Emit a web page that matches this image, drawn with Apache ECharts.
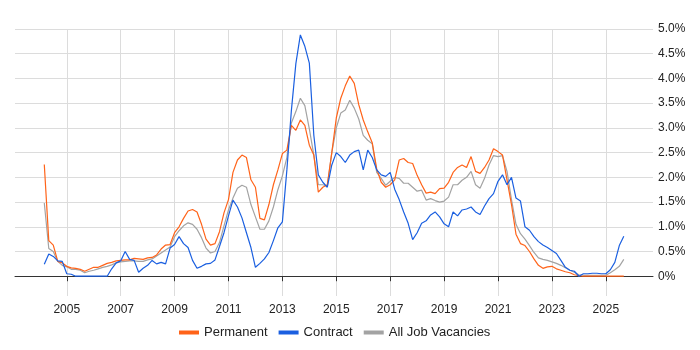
<!DOCTYPE html>
<html>
<head>
<meta charset="utf-8">
<script src="https://cdn.jsdelivr.net/npm/echarts@6/dist/echarts.min.js"></script>
<style>
html,body{margin:0;padding:0;background:#fff;}
#chart{width:700px;height:350px;}
</style>
</head>
<body>
<div id="chart"></div>
<script>
// Series sampled every 2 months starting March 2004
const startYear = 2004;
const startMonth = 3;
const stepMonths = 2;

const seriesNames = ['Permanent', 'Contract', 'All Job Vacancies'];

const permanent = [2.26,0.72,0.63,0.30,0.27,0.20,0.17,0.16,0.14,0.10,
0.14,0.18,0.18,0.22,0.26,0.28,0.31,0.32,0.33,0.33,
0.36,0.35,0.34,0.37,0.38,0.43,0.55,0.63,0.64,0.88,
1.00,1.17,1.32,1.35,1.30,1.05,0.75,0.63,0.66,0.90,
1.28,1.55,2.10,2.35,2.45,2.40,1.95,1.80,1.17,1.14,
1.45,1.85,2.15,2.48,2.55,3.05,2.95,3.16,3.05,2.65,
2.45,1.70,1.80,1.85,2.50,3.20,3.60,3.85,4.05,3.90,
3.47,3.16,2.92,2.70,2.17,1.90,1.80,1.85,1.95,2.35,
2.38,2.30,2.28,2.04,1.85,1.68,1.70,1.67,1.77,1.78,
1.90,2.10,2.20,2.25,2.20,2.42,2.12,2.08,2.20,2.35,
2.58,2.52,2.45,1.95,1.45,0.85,0.66,0.62,0.50,0.35,
0.22,0.16,0.19,0.20,0.15,0.12,0.09,0.07,0.03,0.01,
0,0,0,0,0,0,0,0,0,0];

const contract = [0.24,0.45,0.40,0.31,0.30,0.05,0.04,0.00,0.00,0.00,
0.00,0.00,0.00,0.00,0.00,0.15,0.27,0.31,0.50,0.34,
0.32,0.08,0.16,0.22,0.32,0.25,0.28,0.25,0.57,0.64,
0.80,0.66,0.58,0.32,0.16,0.20,0.25,0.26,0.33,0.60,
0.88,1.22,1.54,1.40,1.18,0.88,0.58,0.18,0.26,0.35,
0.48,0.72,0.98,1.10,2.15,3.35,4.30,4.88,4.65,4.31,
2.85,2.05,1.90,1.80,2.25,2.50,2.42,2.30,2.45,2.52,
2.55,2.15,2.55,2.40,2.15,2.05,2.02,2.10,1.76,1.55,
1.30,1.07,0.74,0.88,1.07,1.12,1.24,1.30,1.20,1.06,
1.00,1.30,1.22,1.34,1.36,1.40,1.30,1.25,1.42,1.57,
1.67,1.92,2.05,1.85,2.00,1.58,1.52,1.00,0.93,0.80,
0.70,0.63,0.58,0.52,0.46,0.32,0.18,0.12,0.10,0.00,
0.05,0.05,0.06,0.06,0.05,0.05,0.13,0.28,0.62,0.81];

const allJobs = [1.48,0.56,0.50,0.30,0.22,0.19,0.14,0.14,0.12,0.07,
0.10,0.12,0.15,0.18,0.20,0.23,0.27,0.29,0.30,0.31,
0.31,0.30,0.30,0.33,0.35,0.41,0.47,0.53,0.59,0.80,
0.92,1.02,1.08,1.05,0.95,0.78,0.57,0.47,0.50,0.68,
1.02,1.34,1.58,1.78,1.84,1.80,1.45,1.20,0.95,0.95,
1.12,1.40,1.75,2.03,2.40,3.10,3.33,3.60,3.45,2.98,
2.45,1.85,1.85,1.82,2.50,3.00,3.30,3.36,3.56,3.40,
3.18,2.85,2.75,2.68,2.10,1.98,1.84,1.92,2.00,1.98,
1.88,1.88,1.80,1.72,1.74,1.54,1.57,1.53,1.50,1.52,
1.60,1.85,1.85,1.94,2.00,2.12,1.85,1.78,1.98,2.25,
2.44,2.42,2.44,2.12,1.55,1.05,0.86,0.75,0.62,0.48,
0.37,0.34,0.32,0.29,0.26,0.22,0.17,0.12,0.08,0.03,
0.02,0.02,0.02,0.02,0.02,0.02,0.07,0.13,0.20,0.34];

const yearTicks = [2005,2007,2009,2011,2013,2015,2017,2019,2021,2023,2025];
const pctTicks = [0,0.5,1,1.5,2,2.5,3,3.5,4,4.5,5];

function toPairs(arr) {
  return arr.map((v, i) => [startYear + (startMonth - 1 + i * stepMonths) / 12, v]);
}

const chart = echarts.init(document.getElementById('chart'), null, {renderer: 'canvas'});
const font = '"Liberation Sans", Arial, sans-serif';
chart.setOption({
  animation: false,
  textStyle: {fontFamily: font},
  grid: {left: 15, right: 47, top: 29, bottom: 54, containLabel: false},
  legend: {
    bottom: 6,
    left: 174,
    icon: 'rect',
    itemWidth: 20,
    itemHeight: 4,
    itemGap: 11,
    textStyle: {fontSize: 13, color: '#222', fontFamily: font},
    data: seriesNames
  },
  xAxis: {
    type: 'value',
    min: 2003.08,
    max: 2026.75,
    axisLine: {show: true, lineStyle: {color: '#333', width: 1}},
    axisTick: {show: true, customValues: yearTicks, length: 5, lineStyle: {color: '#333'}},
    axisLabel: {customValues: yearTicks, formatter: v => String(Math.round(v)), fontSize: 12, color: '#222', margin: 8, fontFamily: font},
    splitLine: {show: true, lineStyle: {color: '#dcdcdc', width: 1}}
  },
  yAxis: {
    type: 'value',
    position: 'right',
    min: -0.4,
    max: 5.0,
    axisLine: {show: false},
    axisTick: {show: false, customValues: pctTicks},
    axisLabel: {customValues: pctTicks, formatter: v => (Math.abs(v) < 1e-9 ? '0%' : v.toFixed(1) + '%'), fontSize: 12, color: '#222', margin: 5, fontFamily: font},
    splitLine: {show: true, lineStyle: {color: '#dcdcdc', width: 1}}
  },
  series: [
    {name: seriesNames[0], type: 'line', data: toPairs(permanent), showSymbol: false, z: 3,
     lineStyle: {color: '#ff6319', width: 1.2}, itemStyle: {color: '#ff6319'}},
    {name: seriesNames[1], type: 'line', data: toPairs(contract), showSymbol: false, z: 4,
     lineStyle: {color: '#1a5fe0', width: 1.2}, itemStyle: {color: '#1a5fe0'}},
    {name: seriesNames[2], type: 'line', data: toPairs(allJobs), showSymbol: false, z: 2,
     lineStyle: {color: '#a3a3a3', width: 1.2}, itemStyle: {color: '#a3a3a3'}}
  ]
});
</script>
</body>
</html>
